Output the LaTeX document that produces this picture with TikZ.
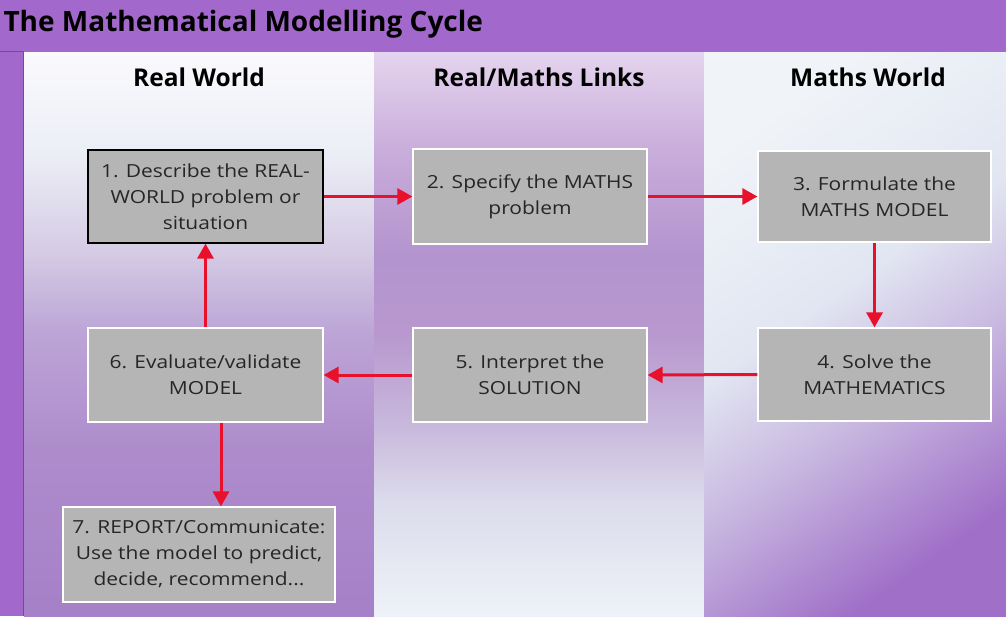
\documentclass[tikz,border=0pt]{standalone}
\usepackage{fontspec}
\setmainfont{Open Sans}
\newfontfamily\boxfont{Open Sans}[FakeStretch=1.165]
\usetikzlibrary{arrows.meta,calc}
\definecolor{titlebar}{HTML}{A268CC}
\definecolor{stripline}{HTML}{6E4C96}
\definecolor{boxgray}{HTML}{B5B5B5}
\definecolor{boxtext}{HTML}{262626}
\definecolor{arrred}{HTML}{E8102A}
\definecolor{aA}{HTML}{A680C8}
\definecolor{aB}{HTML}{AE8CCC}
\definecolor{aC}{HTML}{BCA4D6}
\definecolor{aD}{HTML}{D4CAE4}
\definecolor{aE}{HTML}{ECEEF6}
\definecolor{aF}{HTML}{FAFAFD}
\definecolor{bA}{HTML}{EEF2F8}
\definecolor{bB}{HTML}{DCDCEC}
\definecolor{bC}{HTML}{C8B8DC}
\definecolor{bD}{HTML}{B898CE}
\definecolor{bE}{HTML}{B494CE}
\definecolor{bF}{HTML}{C8ACDA}
\definecolor{bG}{HTML}{E4D4EE}
\definecolor{cA}{HTML}{F0F4F8}
\definecolor{cB}{HTML}{E2E6F2}
\definecolor{cC}{HTML}{C8B8E0}
\definecolor{cD}{HTML}{A070C8}
\pgfdeclareverticalshading{panelA}{100bp}{
  color(0bp)=(aA); color(25bp)=(aA);
  color(40bp)=(aB); color(50bp)=(aC);
  color(57bp)=(aD); color(66bp)=(aE);
  color(75bp)=(aF); color(100bp)=(aF)}
\pgfdeclareverticalshading{panelB}{100bp}{
  color(0bp)=(bA); color(25bp)=(bA);
  color(35bp)=(bB); color(42bp)=(bC);
  color(50bp)=(bD); color(57bp)=(bE);
  color(66bp)=(bF); color(75bp)=(bG); color(100bp)=(bG)}
\pgfdeclarehorizontalshading{panelC}{100bp}{
  color(0bp)=(cA); color(25bp)=(cA);
  color(45bp)=(cB); color(58bp)=(cC);
  color(75bp)=(cD); color(100bp)=(cD)}
\tikzset{
  stepbox/.style={draw=white, line width=1.2pt, fill=boxgray, text=boxtext,
    align=center, inner sep=2pt, font=\boxfont\fontsize{18}{26}\selectfont},
  heading/.style={font=\bfseries\fontsize{24.5}{28}\selectfont, text=black},
  arr/.style={draw=arrred, line width=3pt, -{Triangle[length=15pt,width=16pt]}},
}
\begin{document}
\begin{tikzpicture}[x=1pt,y=-1pt]
\useasboundingbox (0,0) rectangle (1006,616);
% background bars
\fill[titlebar] (0,0) rectangle (1006,52);
\fill[titlebar] (0,52) rectangle (24,616);
\draw[stripline, line width=1pt] (23,51) -- (23,616);
\draw[stripline, line width=0.8pt] (0,51) -- (23,51);
% panels
\shade[shading=panelA] (24,52) rectangle (374,616);
\shade[shading=panelB] (374,52) rectangle (704,616);
\shade[shading=panelC, shading angle=-55] (704,52) rectangle (1006,616);
% title and headings
\node[anchor=west, font=\bfseries\fontsize{28}{32}\selectfont, text=black] (title) at (0,24) {The Mathematical Modelling Cycle};
\node[heading] (h1) at (199,77) {Real World};
\node[heading] (h2) at (539,77) {Real/Maths Links};
\node[heading] (h3) at (868,77) {Maths World};
% boxes
\node[stepbox, draw=black, minimum width=235pt, minimum height=93pt] (b1) at (205.5,196.5) {1. Describe the REAL-\\WORLD problem or\\situation};
\node[stepbox, minimum width=234pt, minimum height=95pt] (b2) at (530,196.5) {2. Specify the MATHS\\problem};
\node[stepbox, minimum width=233pt, minimum height=91pt] (b3) at (874.5,196.5) {3. Formulate the\\MATHS MODEL};
\node[stepbox, minimum width=233pt, minimum height=93pt] (b4) at (874.5,374.5) {4. Solve the\\MATHEMATICS};
\node[stepbox, minimum width=234pt, minimum height=94pt] (b5) at (530,375) {5. Interpret the\\SOLUTION};
\node[stepbox, minimum width=235pt, minimum height=94pt] (b6) at (205.5,375) {6. Evaluate/validate\\MODEL};
\node[stepbox, minimum width=272pt, minimum height=95pt] (b7) at (199,554.5) {7. REPORT/Communicate:\\Use the model to predict,\\decide, recommend...};
% arrows
\draw[arr] (b1.east) -- (b2.west);
\draw[arr] (b2.east) -- (b3.west);
\draw[arr] (b3.south) -- (b4.north);
\draw[arr] (b4.west) -- (b5.east);
\draw[arr] (b5.west) -- (b6.east);
\draw[arr] (b6.north) -- (b1.south);
\draw[arr] ([xshift=15.5pt]b6.south) -- ([xshift=15.5pt]b6.south |- b7.north);
\end{tikzpicture}
\end{document}
